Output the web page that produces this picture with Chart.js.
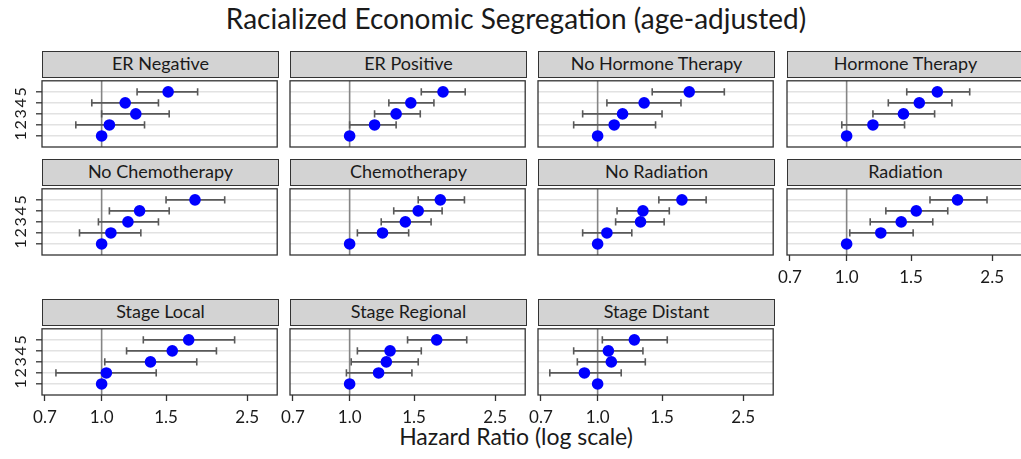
<!DOCTYPE html>
<html>
<head>
<meta charset="utf-8">
<title>Racialized Economic Segregation (age-adjusted)</title>
<script src="https://cdn.jsdelivr.net/npm/chart.js@4.4.1/dist/chart.umd.min.js"></script>
<style>
  html, body { margin: 0; padding: 0; background: #fff; overflow: hidden; }
  body { width: 1021px; height: 459px; position: relative; font-family: Lato, "Open Sans", sans-serif; color: #1a1a1a; }
  .title { position: absolute; left: 0; width: 1032px; top: 1px; text-align: center; font-size: 28px; }
  .xtitle { position: absolute; left: 0; width: 1032px; top: 422px; text-align: center; font-size: 23px; }
  .strip { position: absolute; box-sizing: border-box; height: 27px; background: #d3d3d3; border: 1.3px solid #333;
           text-align: center; font-size: 18px; line-height: 22px; white-space: nowrap; }
  canvas { position: absolute; }
</style>
</head>
<body>
<div class="title">Racialized Economic Segregation (age-adjusted)</div>
<div class="xtitle">Hazard Ratio (log scale)</div>
<script>
// ---- data ----
const panelTitles = [
  "ER Negative", "ER Positive", "No Hormone Therapy", "Hormone Therapy",
  "No Chemotherapy", "Chemotherapy", "No Radiation", "Radiation",
  "Stage Local", "Stage Regional", "Stage Distant"
];
const yLevels = [1, 2, 3, 4, 5];
const xTicks = [0.7, 1.0, 1.5, 2.5];
const refValue = 1;

// hazard ratio per level (1..5), one row per panel
const hrEst = [
  [1, 1.05, 1.24, 1.16, 1.52],
  [1, 1.17, 1.34, 1.47, 1.80],
  [1, 1.11, 1.17, 1.34, 1.78],
  [1, 1.18, 1.43, 1.58, 1.77],
  [1, 1.06, 1.18, 1.27, 1.80],
  [1, 1.23, 1.42, 1.54, 1.77],
  [1, 1.06, 1.31, 1.33, 1.70],
  [1, 1.24, 1.41, 1.55, 2.01],
  [1, 1.03, 1.36, 1.56, 1.73],
  [1, 1.20, 1.26, 1.29, 1.73],
  [1, 0.92, 1.09, 1.07, 1.26]
];
const ciLow = [
  [null, 0.85, 1.00, 0.94, 1.25],
  [null, 1.00, 1.17, 1.28, 1.57],
  [null, 0.86, 0.91, 1.06, 1.41],
  [null, 0.97, 1.18, 1.30, 1.46],
  [null, 0.87, 0.98, 1.05, 1.50],
  [null, 1.05, 1.22, 1.32, 1.54],
  [null, 0.91, 1.12, 1.13, 1.47],
  [null, 1.02, 1.16, 1.28, 1.69],
  [null, 0.75, 1.02, 1.17, 1.30],
  [null, 0.98, 1.01, 1.05, 1.44],
  [null, 0.74, 0.88, 0.86, 1.03]
];
const ciHigh = [
  [null, 1.31, 1.53, 1.43, 1.83],
  [null, 1.34, 1.56, 1.70, 2.07],
  [null, 1.44, 1.50, 1.69, 2.22],
  [null, 1.44, 1.74, 1.94, 2.17],
  [null, 1.28, 1.43, 1.53, 2.17],
  [null, 1.45, 1.67, 1.79, 2.06],
  [null, 1.24, 1.52, 1.57, 1.98],
  [null, 1.52, 1.72, 1.89, 2.42],
  [null, 1.41, 1.82, 2.06, 2.31],
  [null, 1.48, 1.54, 1.57, 2.09],
  [null, 1.16, 1.35, 1.33, 1.55]
];

// ---- layout ----
const panelRow = [0, 0, 0, 0, 1, 1, 1, 1, 2, 2, 2];
const panelCol = [0, 1, 2, 3, 0, 1, 2, 3, 0, 1, 2];
const colLeft = [42, 290, 538, 787];
const rowTop = [77, 185, 325];   // top of plot area
const STRIP_H = 26;
const PLOT_W = 237, PLOT_H = 70;
const AXIS_W = 40, AXIS_H = 45, PAD_T = 2, PAD_R = 4;
const X_MIN = 0.687, X_MAX = 3.02, Y_MIN = 0, Y_MAX = 6;

const frame = {
  id: "frame",
  afterDraw(chart) {
    const { ctx, chartArea: a } = chart;
    ctx.save();
    ctx.strokeStyle = "#333";
    ctx.lineWidth = 1.3;
    ctx.strokeRect(a.left, a.top, a.right - a.left, a.bottom - a.top);
    ctx.restore();
  }
};

// rotated level labels on the left column
const levelLabels = {
  id: "levelLabels",
  afterDraw(chart, args, opts) {
    if (!opts.show) return;
    const ctx = chart.ctx;
    const y = chart.scales.y;
    ctx.save();
    ctx.font = "16px Lato";
    ctx.fillStyle = "#1a1a1a";
    ctx.textAlign = "center";
    ctx.textBaseline = "middle";
    yLevels.forEach((v) => {
      ctx.save();
      ctx.translate(chart.chartArea.left - 21, y.getPixelForValue(v));
      ctx.rotate(-Math.PI / 2);
      ctx.fillText(String(v), 0, 0);
      ctx.restore();
    });
    ctx.restore();
  }
};

panelTitles.forEach((name, i) => {
  const row = panelRow[i];
  const col = panelCol[i];
  const left = colLeft[col];
  const top = rowTop[row];
  const isLeft = col === 0;
  const isBottom = row === 2 || (row === 1 && col === 3);

  const strip = document.createElement("div");
  strip.className = "strip";
  strip.style.left = left + "px";
  strip.style.top = top - STRIP_H + "px";
  strip.style.width = PLOT_W + "px";
  strip.textContent = name;
  document.body.appendChild(strip);

  const canvas = document.createElement("canvas");
  canvas.width = AXIS_W + PLOT_W + PAD_R;
  canvas.height = PAD_T + PLOT_H + AXIS_H;
  canvas.style.left = left - AXIS_W + "px";
  canvas.style.top = top - PAD_T + "px";
  document.body.appendChild(canvas);

  // error bars: one line dataset per level, caps as rotated line points
  const errorSets = [];
  yLevels.forEach((lvl, k) => {
    if (ciLow[i][k] == null) return;
    errorSets.push({
      type: "line",
      showLine: true,
      data: [
        { x: ciLow[i][k], y: lvl },
        { x: ciHigh[i][k], y: lvl }
      ],
      borderColor: "#595959",
      borderWidth: 1.8,
      pointStyle: "line",
      rotation: 90,
      pointRadius: 3.6,
      pointBorderColor: "#595959",
      pointBorderWidth: 1.6,
      order: 1
    });
  });

  new Chart(canvas.getContext("2d"), {
    type: "scatter",
    data: {
      datasets: [
        {
          data: yLevels.map((lvl, k) => ({ x: hrEst[i][k], y: lvl })),
          backgroundColor: "#0000ff",
          borderWidth: 0,
          pointRadius: 5.8,
          order: 0
        },
        ...errorSets,
        {
          // reference line at HR = 1
          type: "line",
          showLine: true,
          data: [{ x: refValue, y: Y_MIN }, { x: refValue, y: Y_MAX }],
          borderColor: "#858585",
          borderWidth: 1.6,
          pointRadius: 0,
          order: 2
        }
      ]
    },
    options: {
      responsive: false,
      animation: false,
      devicePixelRatio: 1,
      layout: { padding: { left: 0, top: PAD_T, right: PAD_R, bottom: 0 } },
      plugins: {
        legend: { display: false },
        tooltip: { enabled: false },
        levelLabels: { show: isLeft }
      },
      scales: {
        x: {
          type: "logarithmic",
          min: X_MIN,
          max: X_MAX,
          afterBuildTicks: (s) => { s.ticks = xTicks.map((v) => ({ value: v })); },
          afterFit: (s) => { s.height = AXIS_H; },
          border: { display: false },
          grid: {
            color: "rgba(0,0,0,0)",
            drawTicks: isBottom,
            tickLength: 6,
            tickColor: "#333",
            tickWidth: 1.3
          },
          ticks: {
            display: isBottom,
            autoSkip: false,
            maxRotation: 0,
            padding: 6,
            color: "#1a1a1a",
            font: { family: "Lato", size: 17 },
            callback: (v) => Number(v).toFixed(1)
          }
        },
        y: {
          type: "linear",
          min: Y_MIN,
          max: Y_MAX,
          afterBuildTicks: (s) => { s.ticks = yLevels.map((v) => ({ value: v })); },
          afterFit: (s) => { s.width = AXIS_W; },
          border: { display: false },
          grid: {
            color: "#e2e2e2",
            lineWidth: 1.6,
            drawTicks: isLeft,
            tickLength: 6,
            tickColor: "#333",
            tickWidth: 1.3
          },
          ticks: { display: false }
        }
      }
    },
    plugins: [frame, levelLabels]
  });
});
</script>
</body>
</html>
